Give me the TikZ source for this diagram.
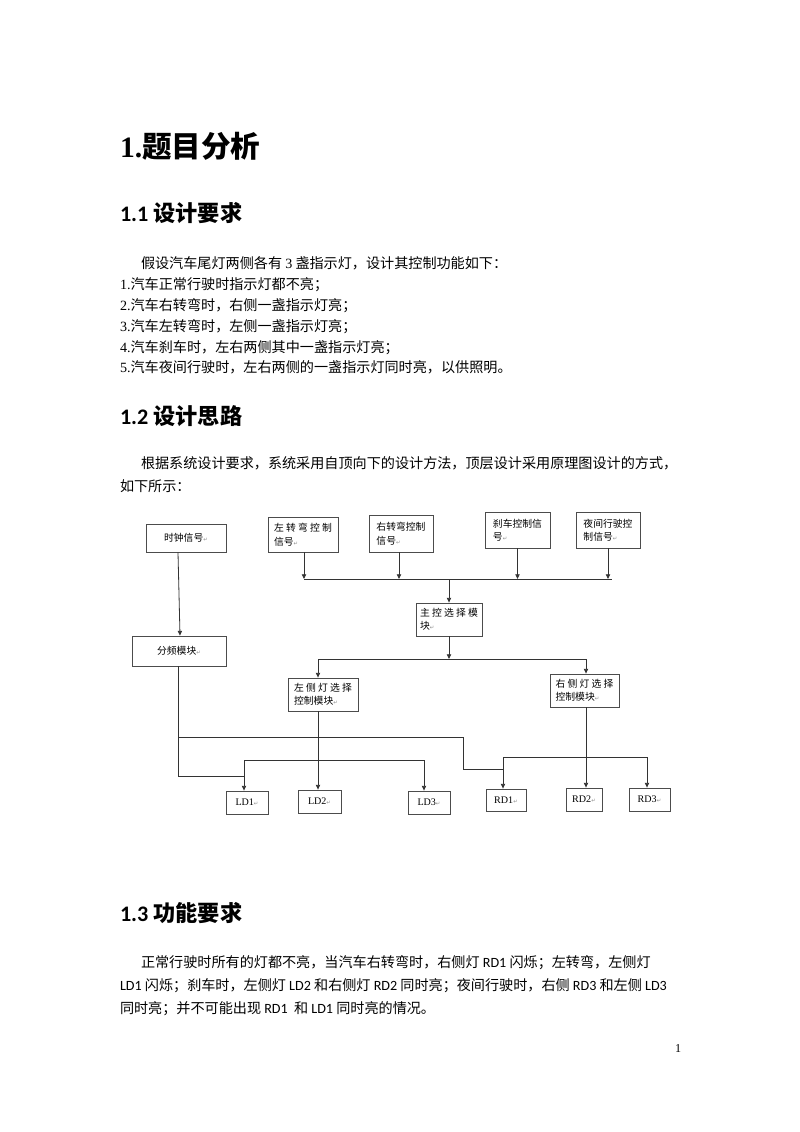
\documentclass[tikz,border=0pt]{standalone}
\usepackage{fontspec}
\setmainfont{Noto Sans CJK SC}
\newfontfamily\tnr{Liberation Serif}
\newfontfamily\carl{Carlito}
\newfontfamily\symf{DejaVu Sans}
\usetikzlibrary{arrows.meta,calc}
\newcommand{\px}{0.744pt}
\newcommand{\ret}{{\symf\fontsize{4}{4}\selectfont\textcolor{retColor}{↵}}}
\begin{document}
\begin{tikzpicture}[x=0.744pt,y=-0.744pt,
  title/.style={anchor=base west,inner sep=0pt,outer sep=0pt,font=\fontsize{22}{24}\selectfont\bfseries},
  head/.style={anchor=base west,inner sep=0pt,outer sep=0pt,font=\fontsize{16.5}{18}\selectfont\bfseries},
  body/.style={anchor=base west,inner sep=0pt,outer sep=0pt,font=\fontsize{10.5}{12}\selectfont},
  blk/.style={draw=boxColor,line width=0.65pt,inner sep=0pt,align=left,font=\fontsize{7.3}{10}\selectfont},
  lamp/.style={blk,font=\tnr\fontsize{7.5}{8}\selectfont},
  wire/.style={draw=drawColor,line width=0.6pt},
  arr/.style={wire,-{Triangle[length=3.5pt,width=3.2pt]}}]
\definecolor{fillColor}{RGB}{255,255,255}
\definecolor{drawColor}{gray}{0.20}
\definecolor{boxColor}{gray}{0.30}
\definecolor{retColor}{gray}{0.55}
\path[use as bounding box,fill=fillColor] (0,0) rectangle (800,1132);

\node[title] (t0) at (120,157) {{\tnr 1.}题目分析};

\node[head] (t1) at (120,221) {{\carl 1.1} 设计要求};
\node[body] (p1) at (141,268) {假设汽车尾灯两侧各有 {\tnr 3} 盏指示灯，设计其控制功能如下：};
\node[body] (p2) at (120,289) {{\tnr 1.}汽车正常行驶时指示灯都不亮；};
\node[body] (p3) at (120,310) {{\tnr 2.}汽车右转弯时，右侧一盏指示灯亮；};
\node[body] (p4) at (120,331) {{\tnr 3.}汽车左转弯时，左侧一盏指示灯亮；};
\node[body] (p5) at (120,352) {{\tnr 4.}汽车刹车时，左右两侧其中一盏指示灯亮；};
\node[body] (p6) at (120,372) {{\tnr 5.}汽车夜间行驶时，左右两侧的一盏指示灯同时亮，以供照明。};

\node[head] (t2) at (120,424) {{\carl 1.2} 设计思路};
\node[body] (q1) at (141,468) {根据系统设计要求，系统采用自顶向下的设计方法，顶层设计采用原理图设计的方式，};
\node[body] (q2) at (120,491) {如下所示：};

\node[blk,minimum width=80*\px,minimum height=28*\px] (clk) at (186,538) {时钟信号\ret};
\node[blk,minimum width=94*\px,minimum height=30*\px] (div) at (179,651) {分频模块\ret};
\node[blk,minimum width=70*\px,minimum height=35*\px] (lturn) at (303,534.5) {左 转 弯 控 制\\信号\ret};
\node[blk,minimum width=64*\px,minimum height=37*\px] (rturn) at (401,533.5) {右转弯控制\\信号\ret};
\node[blk,minimum width=65*\px,minimum height=36*\px] (brake) at (517.5,530) {刹车控制信\\号\ret};
\node[blk,minimum width=64*\px,minimum height=36*\px] (night) at (608,530) {夜间行驶控\\制信号\ret};
\node[blk,minimum width=66*\px,minimum height=33*\px] (main) at (449,619.5) {主 控 选 择 模\\块\ret};
\node[blk,minimum width=70*\px,minimum height=33*\px] (lsel) at (323,694.5) {左 侧 灯 选 择\\控制模块\ret};
\node[blk,minimum width=69*\px,minimum height=33*\px] (rsel) at (584.5,690.5) {右 侧 灯 选 择\\控制模块\ret};
\node[lamp,minimum width=42*\px,minimum height=23*\px] (LD1) at (247,802.5) {LD1\ret};
\node[lamp,minimum width=43*\px,minimum height=23*\px] (LD2) at (319.5,801.5) {LD2\ret};
\node[lamp,minimum width=42*\px,minimum height=23*\px] (LD3) at (429,802.5) {LD3\ret};
\node[lamp,minimum width=40*\px,minimum height=22*\px] (RD1) at (506,800) {RD1\ret};
\node[lamp,minimum width=36*\px,minimum height=23*\px] (RD2) at (584,799.5) {RD2\ret};
\node[lamp,minimum width=41*\px,minimum height=23*\px] (RD3) at (649.5,799.5) {RD3\ret};

\coordinate (busL) at (304,579);
\coordinate (busR) at (612,579);
\coordinate (selL) at (318,659);
\coordinate (selR) at (586,659);
\coordinate (ldL) at (244,760);
\coordinate (ldR) at (424,760);
\coordinate (rdL) at (503,757);
\coordinate (rdR) at (647,757);
\coordinate (feedL) at (244,776);
\coordinate (feedT) at (178,737);
\coordinate (feedR) at (463,769);

\draw[arr] ($(clk.south)+(-8,0)$) -- ($(div.north)+(1,0)$);
\draw[arr] (lturn.south -| busL) -- (busL);
\draw[arr] ($(rturn.south)+(-2,0)$) -- ($(rturn.south |- busL)+(-2,0)$);
\draw[arr] (brake.south) -- (brake.south |- busL);
\draw[arr] (night.south) -- (night.south |- busL);
\draw[wire] (busL) -- (busR);
\draw[arr] (main.north |- busL) -- (main.north);

\draw[arr] (main.south) -- (main.south |- selL);
\draw[wire] (selL) -- (selR);
\draw[arr] (selL) -- (selL |- lsel.north);
\draw[arr] (selR) -- (selR |- rsel.north);

\draw[arr] (lsel.south -| selL) -- (LD2.north -| selL);
\draw[wire] (ldL) -- (ldR);
\draw[arr] (ldL) -- (ldL |- LD1.north);
\draw[arr] (ldR) -- (ldR |- LD3.north);

\draw[arr] (rsel.south -| selR) -- (RD2.north -| selR);
\draw[wire] (rdL) -- (rdR);
\draw[arr] (rdL) -- (rdL |- RD1.north);
\draw[arr] (rdR) -- (rdR |- RD3.north);

\draw[wire] ($(div.south)+(-1,0)$) |- (feedL);
\draw[wire] (feedT) -| (feedR) -- (feedR -| rdL);

\node[head] (t3) at (120,921) {{\carl 1.3} 功能要求};
\node[body] (r1) at (141,967) {正常行驶时所有的灯都不亮，当汽车右转弯时，右侧灯 {\carl RD1} 闪烁；左转弯，左侧灯};
\node[body] (r2) at (120,990) {{\carl LD1} 闪烁；刹车时，左侧灯 {\carl LD2} 和右侧灯 {\carl RD2} 同时亮；夜间行驶时，右侧 {\carl RD3} 和左侧 {\carl LD3}};
\node[body] (r3) at (120,1013) {同时亮；并不可能出现 {\carl RD1}\ \ 和 {\carl LD1} 同时亮的情况。};

\node[body,font=\tnr\fontsize{9}{10}\selectfont] (pg) at (675,1052) {1};
\end{tikzpicture}
\end{document}
